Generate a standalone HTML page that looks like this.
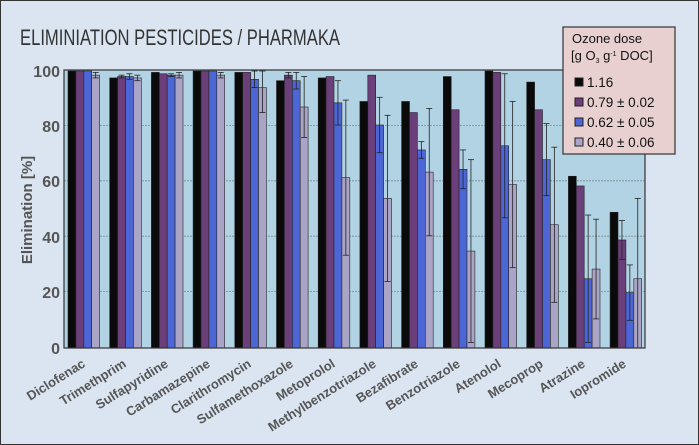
<!DOCTYPE html>
<html><head><meta charset="utf-8"><style>
html,body{margin:0;padding:0;background:#dbe5f2;}
svg{display:block;font-family:"Liberation Sans",sans-serif;}
.lab{font-size:13px;font-weight:bold;fill:#555;}
.yt{font-size:16px;font-weight:bold;fill:#555;}
</style></head><body>
<svg id="s" width="699" height="445" viewBox="0 0 699 445">
<rect x="0.5" y="0.5" width="698" height="444" fill="#dbe5f2" stroke="#333" stroke-width="1"/>
<text x="20" y="45" font-size="22" fill="#333" textLength="320" lengthAdjust="spacingAndGlyphs">ELIMINIATION PESTICIDES / PHARMAKA</text>
<rect x="64" y="70" width="581" height="278" fill="#b2d3e3"/>
<g stroke="#7a8a90" stroke-width="0.8" stroke-dasharray="2,1">
<line x1="64" x2="645" y1="125.4" y2="125.4"/><line x1="64" x2="645" y1="180.8" y2="180.8"/>
<line x1="64" x2="645" y1="236.2" y2="236.2"/><line x1="64" x2="645" y1="291.6" y2="291.6"/>
</g>
<g id="bars"></g>
<rect x="64" y="70" width="581" height="278" fill="none" stroke="#333" stroke-width="1.2"/>
<g class="yt" text-anchor="end">
<text x="60" y="77">100</text><text x="60" y="132">80</text><text x="60" y="187">60</text>
<text x="60" y="243">40</text><text x="60" y="298">20</text><text x="60" y="354">0</text>
</g>
<text transform="translate(32,210) rotate(-90)" text-anchor="middle" font-size="15" font-weight="bold" fill="#555">Elimination [%]</text>
<g class="lab" text-anchor="end">
<text transform="translate(86,366) rotate(-32)">Diclofenac</text>
<text transform="translate(127,366) rotate(-32)">Trimethprim</text>
<text transform="translate(169,366) rotate(-32)">Sulfapyridine</text>
<text transform="translate(211,366) rotate(-32)">Carbamazepine</text>
<text transform="translate(252,366) rotate(-32)">Clarithromycin</text>
<text transform="translate(294,366) rotate(-32)">Sulfamethoxazole</text>
<text transform="translate(336,366) rotate(-32)">Metoprolol</text>
<text transform="translate(377,366) rotate(-32)">Methylbenzotriazole</text>
<text transform="translate(419,366) rotate(-32)">Bezafibrate</text>
<text transform="translate(461,366) rotate(-32)">Benzotriazole</text>
<text transform="translate(502,366) rotate(-32)">Atenolol</text>
<text transform="translate(544,366) rotate(-32)">Mecoprop</text>
<text transform="translate(586,366) rotate(-32)">Atrazine</text>
<text transform="translate(627,366) rotate(-32)">Iopromide</text>
</g>
<rect x="563" y="27" width="112" height="127" fill="#e8d0d0" stroke="#333" stroke-width="1.2"/>
<text x="572" y="43" font-size="13" fill="#111">Ozone dose</text>
<text x="571" y="60" font-size="13" fill="#111">[g O<tspan font-size="7" dy="3">3</tspan><tspan dy="-3"> g</tspan><tspan font-size="7" dy="-4">-1</tspan><tspan dy="4"> DOC]</tspan></text>
<rect x="575" y="78" width="8" height="8" fill="#0a0a0a" stroke="#222"/>
<rect x="575" y="98" width="8" height="8" fill="#6a3f7a" stroke="#222"/>
<rect x="575" y="118" width="8" height="8" fill="#4d66d6" stroke="#222"/>
<rect x="575" y="138" width="8" height="8" fill="#aaa5c6" stroke="#222"/>
<g font-size="13.5" fill="#111">
<text x="587" y="87">1.16</text><text x="587" y="107">0.79 ± 0.02</text>
<text x="587" y="127">0.62 ± 0.05</text><text x="587" y="147">0.40 ± 0.06</text>
</g>
</svg>
<script>
var d=[[100,100,100,98.5],[97.5,98,98,97.5],[99.5,99,98.5,98.5],[100,100,100,98.5],[99.5,99.5,97,94],[96.5,98.5,96.5,87],[97.5,98,88.5,61.5],[89,98.5,80.5,54],[89,85,71.5,63.5],[98,86,64.5,35],[100,99.5,73,59],[96,86,68,44.5],[62,58.5,25,28.5],[49,39,20,25]];
var e=[[0,0,0,1],[0,.5,1,1],[0,0,.5,1],[0,0,0,1],[0,0,3,9],[0,1,3,11],[0,0,8,28],[0,0,10,30],[0,0,3,23],[0,0,7,33],[0,0,26,30],[0,0,13,28],[0,0,23,18],[0,7,10,29]];
var c=["#0a0a0a","#6a3f7a","#4d66d6","#aaa5c6"],g=document.getElementById("bars"),h="";
function Y(v){return 348-v*2.77;}
for(var i=0;i<14;i++){var x0=68+i*41.7;for(var j=0;j<4;j++){var x=x0+j*7.9,v=d[i][j];
h+='<rect x="'+x+'" y="'+Y(v)+'" width="7.9" height="'+(348-Y(v))+'" fill="'+c[j]+'" stroke="#222" stroke-width="0.6"/>';
var er=e[i][j];if(er>0){var cx=x+3.95,t=Math.min(100,v+er),b=Math.max(0,v-er);
h+='<line x1="'+cx+'" x2="'+cx+'" y1="'+Y(t)+'" y2="'+Y(b)+'" stroke="#222" stroke-width="0.8"/>';
h+='<line x1="'+(cx-3)+'" x2="'+(cx+3)+'" y1="'+Y(t)+'" y2="'+Y(t)+'" stroke="#222" stroke-width="0.8"/>';
h+='<line x1="'+(cx-3)+'" x2="'+(cx+3)+'" y1="'+Y(b)+'" y2="'+Y(b)+'" stroke="#222" stroke-width="0.8"/>';}}}
g.innerHTML=h;
</script>
</body></html>
